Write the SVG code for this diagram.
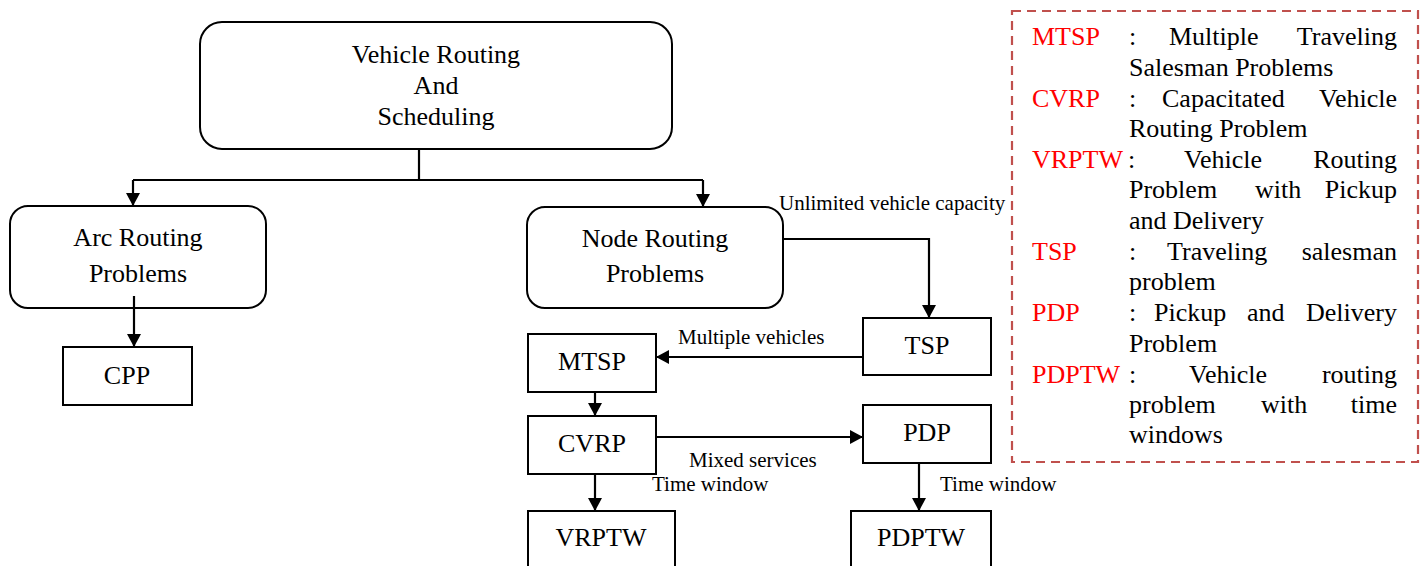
<svg xmlns="http://www.w3.org/2000/svg" width="1422" height="566" viewBox="0 0 1422 566">
<style>
.box{fill:#fff;stroke:#000;stroke-width:2}
.t{font-family:"Liberation Serif","Times New Roman",serif;font-size:26px;fill:#000;text-anchor:middle}
.lbl{font-family:"Liberation Serif","Times New Roman",serif;font-size:21px;fill:#000}
.c{fill:none;stroke:#000;stroke-width:2.2}
.lg{font-family:"Liberation Serif","Times New Roman",serif;font-size:26px;fill:#000}
.ab{fill:#ff0000}
.e{text-anchor:end}
</style>
<defs>
<marker id="ah" markerUnits="userSpaceOnUse" markerWidth="14" markerHeight="14" refX="13" refY="7" orient="auto">
<path d="M0,0 L13,7 L0,14 z" fill="#000"/>
</marker>
</defs>
<rect width="1422" height="566" fill="#fff"/>
<g id="connectors">
<path class="c" d="M419,149 V180" stroke-width="1.6"/>
<path class="c" d="M133,180 H703"/>
<path class="c" d="M133,180 V206" marker-end="url(#ah)"/>
<path class="c" d="M703,180 V207" marker-end="url(#ah)"/>
<path class="c" d="M134,296 V347" marker-end="url(#ah)"/>
<path class="c" d="M783,239 H929 V318" marker-end="url(#ah)"/>
<path class="c" d="M863,357 H656" marker-end="url(#ah)"/>
<path class="c" d="M595,392 V416" marker-end="url(#ah)"/>
<path class="c" d="M656,437 H863" marker-end="url(#ah)"/>
<path class="c" d="M595,474 V511" marker-end="url(#ah)"/>
<path class="c" d="M919,463 V511" marker-end="url(#ah)"/>
<text class="lbl" x="779" y="210">Unlimited vehicle capacity</text>
<text class="lbl" x="678" y="344">Multiple vehicles</text>
<text class="lbl" x="689" y="467">Mixed services</text>
<text class="lbl" x="652" y="491">Time window</text>
<text class="lbl" x="940" y="491">Time window</text>
</g>
<g id="vrs">
<rect class="box" x="200" y="22" width="472" height="127" rx="22"/>
<text class="t" x="436" y="63">Vehicle Routing</text>
<text class="t" x="436" y="94">And</text>
<text class="t" x="436" y="125">Scheduling</text>
</g>
<g id="arc">
<rect class="box" x="10" y="206" width="256" height="102" rx="18"/>
<text class="t" x="138" y="246">Arc Routing</text>
<text class="t" x="138" y="282">Problems</text>
</g>
<path class="c" d="M134,296 V308"/>
<g id="node">
<rect class="box" x="527" y="207" width="256" height="101" rx="18"/>
<text class="t" x="655" y="247">Node Routing</text>
<text class="t" x="655" y="282">Problems</text>
</g>
<g id="cpp">
<rect class="box" x="63" y="347" width="129" height="58"/>
<text class="t" x="127" y="384">CPP</text>
</g>
<g id="tsp">
<rect class="box" x="863" y="318" width="128" height="57"/>
<text class="t" x="927" y="354">TSP</text>
</g>
<g id="mtsp">
<rect class="box" x="528" y="334" width="128" height="58"/>
<text class="t" x="592" y="370">MTSP</text>
</g>
<g id="cvrp">
<rect class="box" x="528" y="416" width="128" height="58"/>
<text class="t" x="592" y="452">CVRP</text>
</g>
<g id="pdp">
<rect class="box" x="863" y="405" width="128" height="58"/>
<text class="t" x="927" y="441">PDP</text>
</g>
<g id="vrptw">
<rect class="box" x="528" y="511" width="147" height="80"/>
<text class="t" x="601" y="546">VRPTW</text>
</g>
<g id="pdptw">
<rect class="box" x="851" y="511" width="140" height="80"/>
<text class="t" x="921" y="546">PDPTW</text>
</g>
<g id="legend">
<rect x="1012" y="11" width="406" height="451" fill="none" stroke="#c0504d" stroke-width="2.2" stroke-dasharray="9,6"/>
<text class="lg ab" x="1032" y="45">MTSP</text>
<text class="lg" x="1129" y="45">:</text>
<text class="lg" x="1169" y="45">Multiple</text>
<text class="lg e" x="1397" y="45">Traveling</text>
<text class="lg" x="1129" y="76">Salesman Problems</text>
<text class="lg ab" x="1032" y="107">CVRP</text>
<text class="lg" x="1129" y="107">:</text>
<text class="lg" x="1162" y="107">Capacitated</text>
<text class="lg e" x="1397" y="107">Vehicle</text>
<text class="lg" x="1129" y="137">Routing Problem</text>
<text class="lg ab" x="1032" y="168">VRPTW</text>
<text class="lg" x="1128" y="168">:</text>
<text class="lg" x="1184" y="168">Vehicle</text>
<text class="lg e" x="1397" y="168">Routing</text>
<text class="lg" x="1129" y="198">Problem</text>
<text class="lg" x="1255" y="198">with</text>
<text class="lg e" x="1397" y="198">Pickup</text>
<text class="lg" x="1129" y="229">and Delivery</text>
<text class="lg ab" x="1032" y="260">TSP</text>
<text class="lg" x="1129" y="260">:</text>
<text class="lg" x="1167" y="260">Traveling</text>
<text class="lg e" x="1397" y="260">salesman</text>
<text class="lg" x="1129" y="290">problem</text>
<text class="lg ab" x="1032" y="321">PDP</text>
<text class="lg" x="1129" y="321">:</text>
<text class="lg" x="1154" y="321">Pickup</text>
<text class="lg" x="1247" y="321">and</text>
<text class="lg e" x="1397" y="321">Delivery</text>
<text class="lg" x="1129" y="352">Problem</text>
<text class="lg ab" x="1032" y="383">PDPTW</text>
<text class="lg" x="1129" y="383">:</text>
<text class="lg" x="1189" y="383">Vehicle</text>
<text class="lg e" x="1397" y="383">routing</text>
<text class="lg" x="1129" y="413">problem</text>
<text class="lg" x="1261" y="413">with</text>
<text class="lg e" x="1397" y="413">time</text>
<text class="lg" x="1129" y="443">windows</text>
</g>
</svg>
